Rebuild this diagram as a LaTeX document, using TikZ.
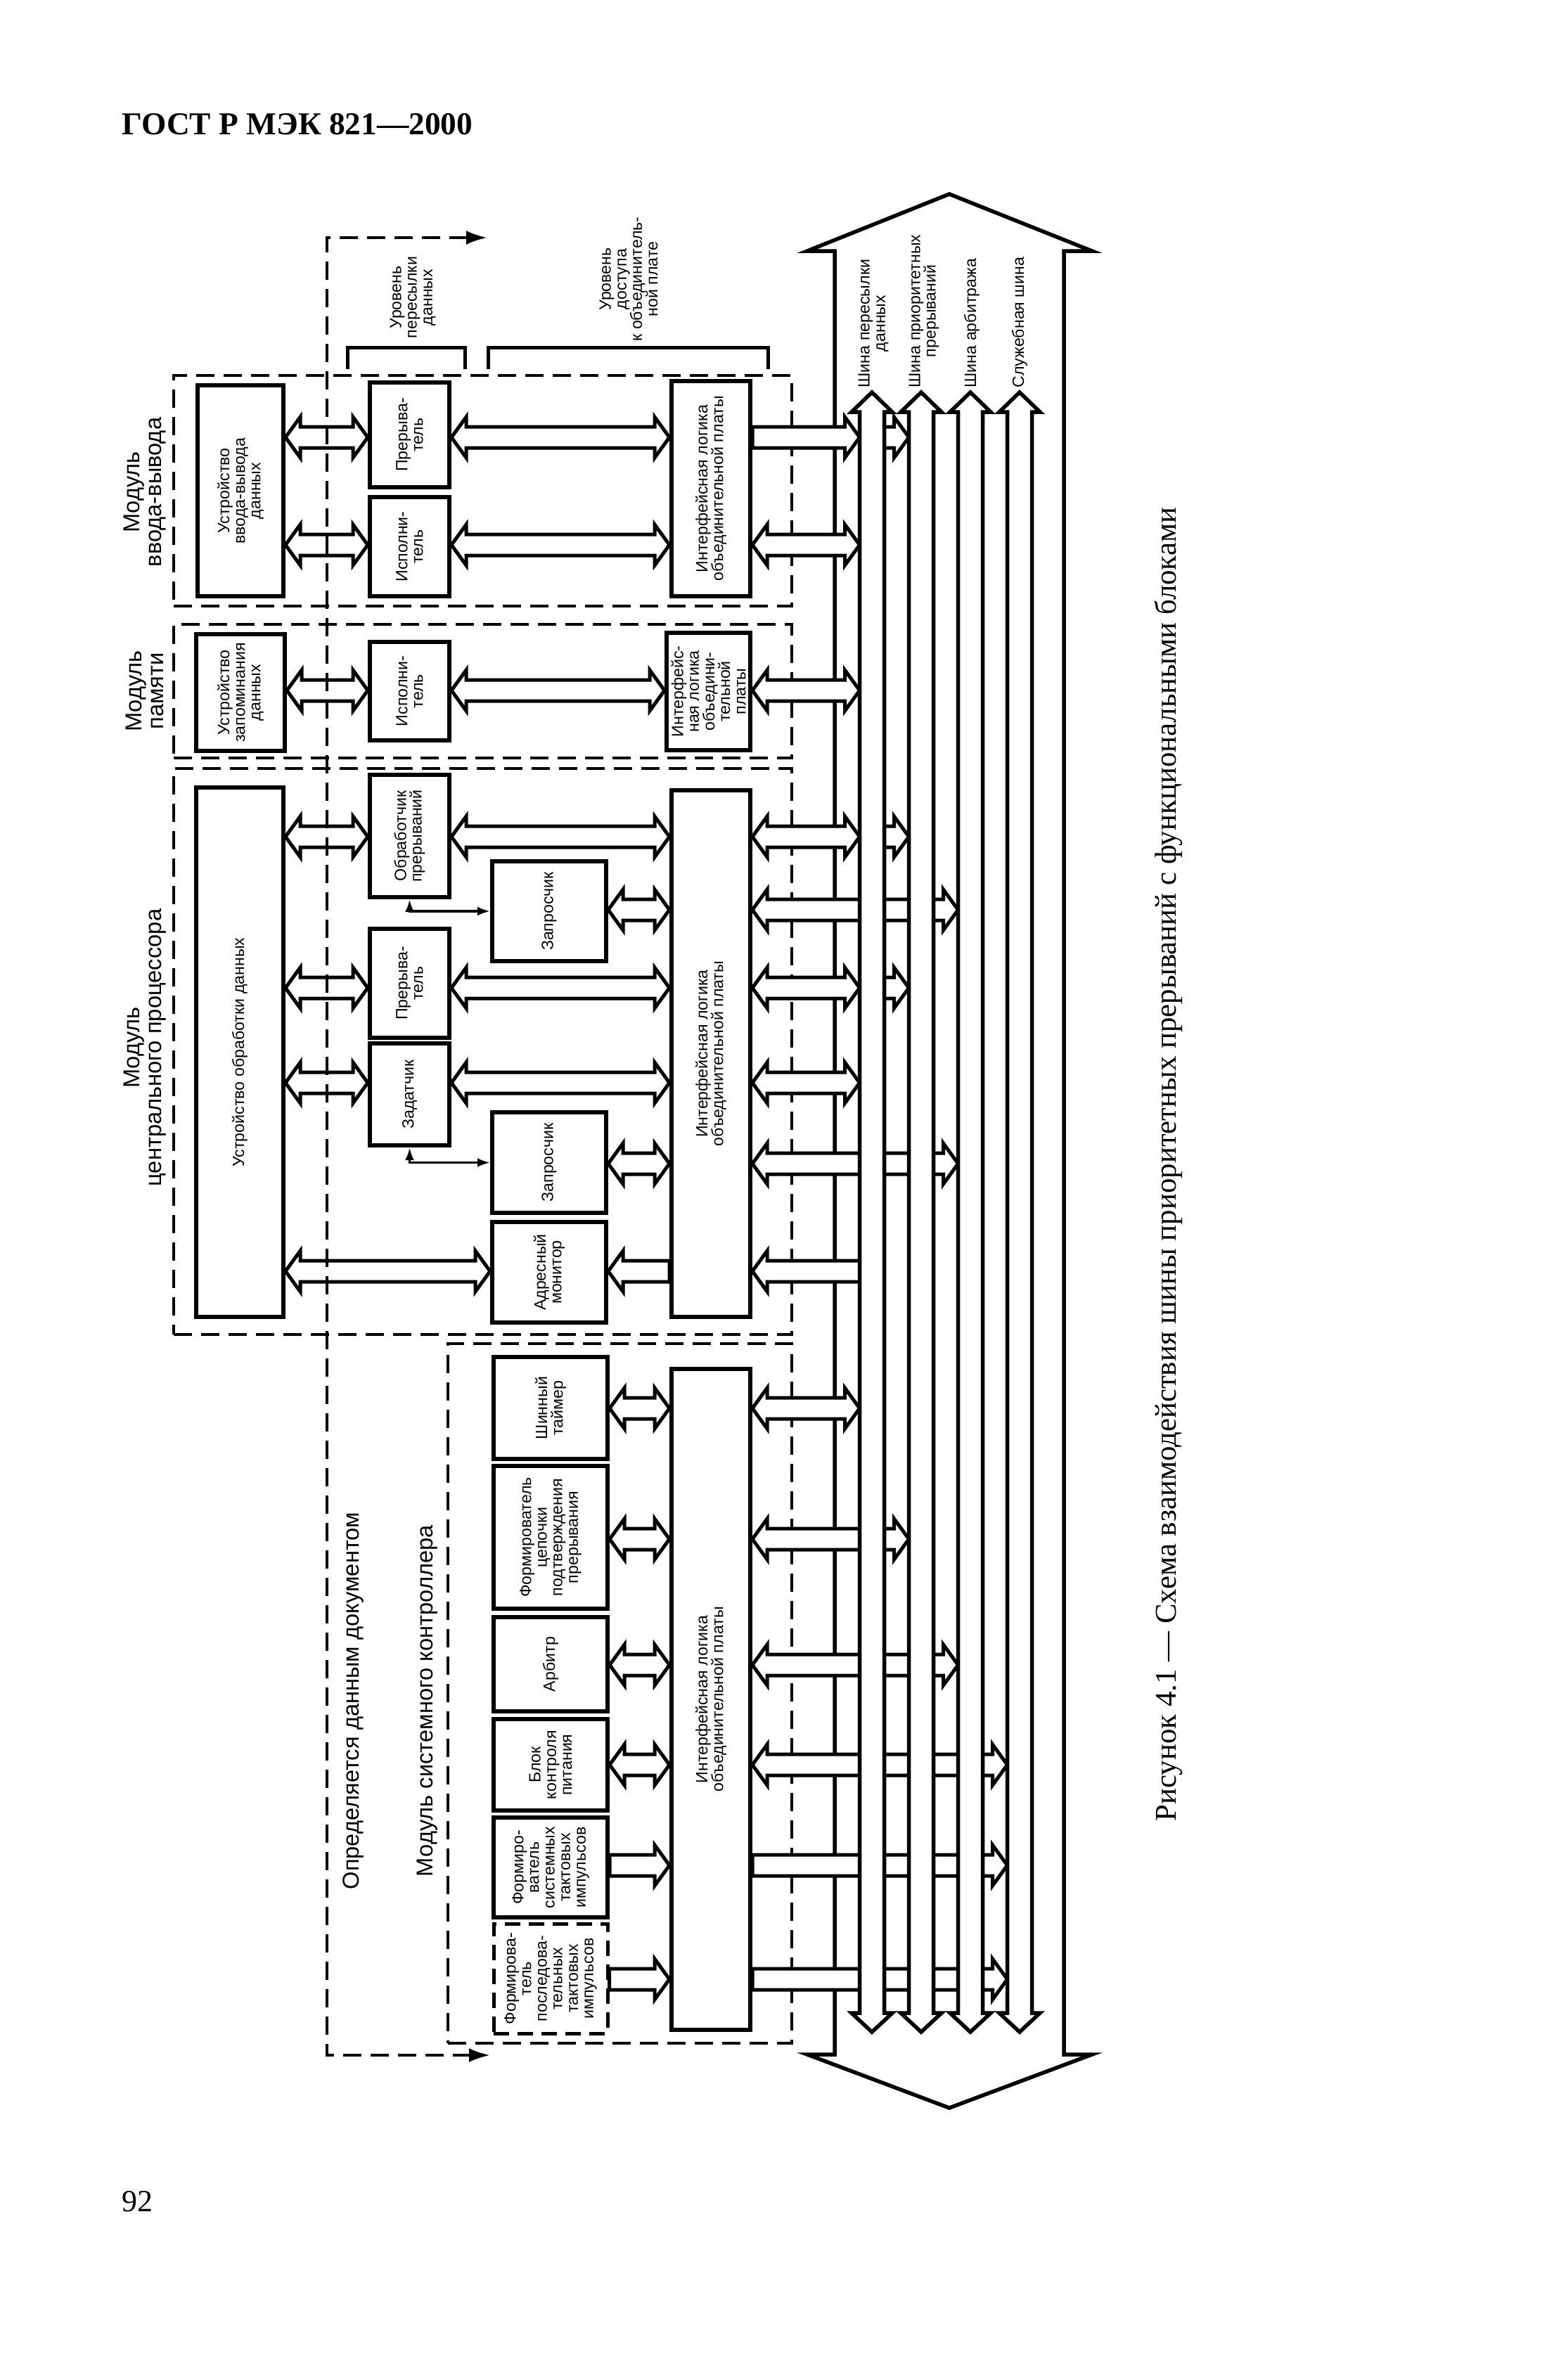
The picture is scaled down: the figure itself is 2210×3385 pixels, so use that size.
\documentclass[tikz,border=0pt]{standalone}
\usepackage{fontspec}
\setmainfont{Liberation Serif}
\setsansfont{Liberation Sans}
\usetikzlibrary{arrows.meta,calc,fit}
\def\hl{2.1mm}\def\hw{2.9mm}\def\sw{1.5mm}
% hollow arrows between two points on one row
\newcommand{\biarrow}[2]{\draw[fat] let \p1=#1,\p2=#2 in (\x1,\y1) -- ++(\hl,\hw) -- ++(0pt,\sw-\hw) -- (\x2-\hl,\y1+\sw) -- ++(0pt,\hw-\sw) -- (\x2,\y1) -- ++(-\hl,-\hw) -- ++(0pt,\hw-\sw) -- (\x1+\hl,\y1-\sw) -- ++(0pt,\sw-\hw) -- cycle;}
\newcommand{\rarrow}[2]{\draw[fat] let \p1=#1,\p2=#2 in (\x1,\y1+\sw) -- (\x2-\hl,\y1+\sw) -- ++(0pt,\hw-\sw) -- (\x2,\y1) -- ++(-\hl,-\hw) -- ++(0pt,\hw-\sw) -- (\x1,\y1-\sw) -- cycle;}
\newcommand{\larrow}[2]{\draw[fat] let \p1=#1,\p2=#2 in (\x1,\y1) -- ++(\hl,\hw) -- ++(0pt,\sw-\hw) -- (\x2,\y1+\sw) -- (\x2,\y1-\sw) -- (\x1+\hl,\y1-\sw) -- ++(0pt,\sw-\hw) -- cycle;}
\newcommand{\busline}[1]{\draw[bus] (#1-17.5,586) -- (#1-29,586) -- (#1,558) -- (#1+29,586) -- (#1+17.5,586) -- (#1+17.5,2863) -- (#1+29,2863) -- (#1,2890) -- (#1-29,2863) -- (#1-17.5,2863) -- cycle;}
\tikzset{box/.style={draw,line width=0.6mm,fill=white,inner sep=0pt},
 dbox/.style={box,line width=0.5mm,dash pattern=on 2.2mm off 1.2mm},
 module/.style={draw,line width=0.45mm,dash pattern=on 2.6mm off 1.3mm,inner sep=0pt},
 txt/.style={rotate=90,align=center,font=\sffamily\fontsize{6.6}{6.3}\selectfont,inner sep=0pt},
 mtxt/.style={rotate=90,align=center,font=\sffamily\fontsize{9.3}{9}\selectfont,inner sep=0pt},
 fat/.style={draw,line width=0.5mm,fill=white,line join=miter},
 bus/.style={draw,line width=0.55mm,fill=white,line join=miter},
 thin/.style={line width=0.35mm,{Latex[length=1.8mm,width=1.3mm]}-{Latex[length=1.8mm,width=1.3mm]}},
 doc/.style={line width=0.4mm,dash pattern=on 2.6mm off 1.3mm,{Latex[length=3mm,width=2mm]}-{Latex[length=3mm,width=2mm]}},
 brk/.style={line width=0.5mm}}
\begin{document}
\begin{tikzpicture}[x=0.1mm,y=-0.1mm]
\useasboundingbox (0,0) rectangle (2210,3385);
\node[anchor=base west,font=\bfseries\fontsize{12.9}{15}\selectfont,inner sep=0pt] (head) at (173,191) {ГОСТ Р МЭК 821—2000};
\node[anchor=base west,font=\fontsize{12.5}{14}\selectfont,inner sep=0pt] (page) at (173,3145) {92};
\node[rotate=90,font=\fontsize{12.2}{14}\selectfont,inner sep=0pt] (cap) at (1662,1656) {Рисунок 4.1 — Схема взаимодействия шины приоритетных прерываний с функциональными блоками};
% modules
\node[module,fit={(247,534) (1126,862)}] (modIO) {};
\node[module,fit={(247,888) (1126,1078)}] (modMem) {};
\node[module,fit={(247,1093) (1126,1898)}] (modCPU) {};
\node[module,fit={(637,1911) (1126,2906)}] (modSys) {};
\node[mtxt] at (206,700) {Модуль\\ввода-вывода};
\node[mtxt] at (206,983) {Модуль\\памяти};
\node[mtxt] at (206,1490) {Модуль\\центрального процессора};
\node[mtxt] at (608,2419) {Модуль системного контроллера};
\node[mtxt] (docl) at (502,2419) {Определяется данным документом};
% big bus arrow
\draw[bus] (1187,357) -- (1148,357) -- (1350,276) -- (1553,357) -- (1513,357) -- (1513,2922) -- (1553,2922) -- (1350,2998) -- (1148,2922) -- (1187,2922) -- cycle;
% levels
\draw[brk] (494,525) |- (661,494) -- (661,525);
\draw[brk] (694,525) |- (1092,494) -- (1092,525);
\node[txt] at (587,423) {Уровень\\пересылки\\данных};
\node[txt] at (894,397) {Уровень\\доступа\\к объединитель-\\ной плате};
% I/O module
\node[box,fit={(281,548) (403,848)}] (udevIO) {};
\node[box,fit={(526,544) (639,693)}] (prerIO) {};
\node[box,fit={(526,707) (639,848)}] (ispIO) {};
\node[box,fit={(955,542) (1067,848)}] (ifIO) {};
\node[txt] at (udevIO) {Устройство\\ввода-вывода\\данных};
\node[txt] at (prerIO) {Прерыва-\\тель};
\node[txt] at (ispIO) {Исполни-\\тель};
\node[txt] at (ifIO) {Интерфейсная логика\\объединительной платы};
% memory module
\node[box,fit={(279,902) (405,1068)}] (udevMem) {};
\node[box,fit={(526,913) (639,1053)}] (ispMem) {};
\node[box,fit={(948,900) (1067,1067)}] (ifMem) {};
\node[txt] at (udevMem) {Устройство\\запоминания\\данных};
\node[txt] at (ispMem) {Исполни-\\тель};
\node[txt] at (ifMem) {Интерфейс-\\ная логика\\объедини-\\тельной\\платы};
% CPU module
\node[box,fit={(279,1120) (403,1873)}] (udevCPU) {};
\node[box,fit={(526,1102) (639,1276)}] (obr) {};
\node[box,fit={(700,1225) (862,1367)}] (zap1) {};
\node[box,fit={(526,1321) (639,1476)}] (prerCPU) {};
\node[box,fit={(526,1484) (639,1629)}] (zad) {};
\node[box,fit={(700,1582) (862,1725)}] (zap2) {};
\node[box,fit={(700,1738) (862,1881)}] (amon) {};
\node[box,fit={(955,1124) (1067,1873)}] (ifCPU) {};
\node[txt] at (udevCPU) {Устройство обработки данных};
\node[txt] at (obr) {Обработчик\\прерываний};
\node[txt] at (zap1) {Запросчик};
\node[txt] at (prerCPU) {Прерыва-\\тель};
\node[txt] at (zad) {Задатчик};
\node[txt] at (zap2) {Запросчик};
\node[txt] at (amon) {Адресный\\монитор};
\node[txt] at (ifCPU) {Интерфейсная логика\\объединительной платы};
% system controller module
\node[box,fit={(702,1930) (864,2075)}] (tmr) {};
\node[box,fit={(702,2085) (864,2288)}] (fcep) {};
\node[box,fit={(702,2300) (864,2434)}] (arb) {};
\node[box,fit={(702,2445) (864,2575)}] (bkp) {};
\node[box,fit={(702,2585) (864,2727)}] (fsti) {};
\node[dbox,fit={(702,2736) (864,2892)}] (fpti) {};
\node[box,fit={(955,1947) (1067,2887)}] (ifSys) {};
\node[txt] at (tmr) {Шинный\\таймер};
\node[txt] at (fcep) {Формирователь\\цепочки\\подтверждения\\прерывания};
\node[txt] at (arb) {Арбитр};
\node[txt] at (bkp) {Блок\\контроля\\питания};
\node[txt] at (fsti) {Формиро-\\ватель\\системных\\тактовых\\импульсов};
\node[txt] at (fpti) {Формирова-\\тель\\последова-\\тельных\\тактовых\\импульсов};
\node[txt] at (ifSys) {Интерфейсная логика\\объединительной платы};
% bus positions
\coordinate (dataC) at (1240,0);
\coordinate (dataL) at (1222.5,0);
\coordinate (prioL) at (1292.5,0);
\coordinate (arbL) at (1362.5,0);
\coordinate (servL) at (1432.5,0);
% I/O rows
\biarrow{(udevIO.east |- 0,622)}{(prerIO.west |- 0,622)}
\biarrow{(prerIO.east |- 0,622)}{(ifIO.west |- 0,622)}
\rarrow{(ifIO.east |- 0,622)}{(dataL |- 0,622)}
\rarrow{(dataC |- 0,622)}{(prioL |- 0,622)}
\biarrow{(udevIO.east |- 0,775)}{(ispIO.west |- 0,775)}
\biarrow{(ispIO.east |- 0,775)}{(ifIO.west |- 0,775)}
\biarrow{(ifIO.east |- 0,775)}{(dataL |- 0,775)}
% memory row
\biarrow{(udevMem.east |- 0,982)}{(ispMem.west |- 0,982)}
\biarrow{(ispMem.east |- 0,982)}{(ifMem.west |- 0,982)}
\biarrow{(ifMem.east |- 0,982)}{(dataL |- 0,982)}
% CPU rows
\biarrow{(udevCPU.east |- 0,1190)}{(obr.west |- 0,1190)}
\biarrow{(obr.east |- 0,1190)}{(ifCPU.west |- 0,1190)}
\biarrow{(ifCPU.east |- 0,1190)}{(dataL |- 0,1190)}
\rarrow{(dataC |- 0,1190)}{(prioL |- 0,1190)}
\biarrow{(zap1.east |- 0,1294)}{(ifCPU.west |- 0,1294)}
\biarrow{(ifCPU.east |- 0,1294)}{(arbL |- 0,1294)}
\biarrow{(udevCPU.east |- 0,1405)}{(prerCPU.west |- 0,1405)}
\biarrow{(prerCPU.east |- 0,1405)}{(ifCPU.west |- 0,1405)}
\biarrow{(ifCPU.east |- 0,1405)}{(dataL |- 0,1405)}
\rarrow{(dataC |- 0,1405)}{(prioL |- 0,1405)}
\biarrow{(udevCPU.east |- 0,1540)}{(zad.west |- 0,1540)}
\biarrow{(zad.east |- 0,1540)}{(ifCPU.west |- 0,1540)}
\biarrow{(ifCPU.east |- 0,1540)}{(dataL |- 0,1540)}
\biarrow{(zap2.east |- 0,1655)}{(ifCPU.west |- 0,1655)}
\biarrow{(ifCPU.east |- 0,1655)}{(arbL |- 0,1655)}
\biarrow{(udevCPU.east |- 0,1808)}{(amon.west |- 0,1808)}
\larrow{(amon.east |- 0,1808)}{(ifCPU.west |- 0,1808)}
\larrow{(ifCPU.east |- 0,1808)}{(dataL |- 0,1808)}
% system controller rows
\biarrow{(tmr.east |- 0,2003)}{(ifSys.west |- 0,2003)}
\biarrow{(ifSys.east |- 0,2003)}{(dataL |- 0,2003)}
\biarrow{(fcep.east |- 0,2189)}{(ifSys.west |- 0,2189)}
\biarrow{(ifSys.east |- 0,2189)}{(prioL |- 0,2189)}
\biarrow{(arb.east |- 0,2368)}{(ifSys.west |- 0,2368)}
\biarrow{(ifSys.east |- 0,2368)}{(arbL |- 0,2368)}
\biarrow{(bkp.east |- 0,2510)}{(ifSys.west |- 0,2510)}
\biarrow{(ifSys.east |- 0,2510)}{(servL |- 0,2510)}
\rarrow{(fsti.east |- 0,2653)}{(ifSys.west |- 0,2653)}
\rarrow{(ifSys.east |- 0,2653)}{(servL |- 0,2653)}
\rarrow{(fpti.east |- 0,2815)}{(ifSys.west |- 0,2815)}
\rarrow{(ifSys.east |- 0,2815)}{(servL |- 0,2815)}
% buses
\foreach \bx in {1240,1310,1380,1450}{\busline{\bx}}
\node[txt,anchor=west] (dataT) at (1242,552) {Шина пересылки\\данных};
\node[txt,anchor=west] (prioT) at (1314,552) {Шина приоритетных\\прерываний};
\node[txt,anchor=west] (arbT) at (1382,552) {Шина арбитража};
\node[txt,anchor=west] (servT) at (1450,552) {Служебная шина};
% requests
\draw[thin] (obr.south) |- (zap1.west);
\draw[thin] (zad.south) |- (zap2.west);
% scope of the document
\coordinate (docA) at (693,338);
\coordinate (docB) at (697,2923);
\draw[doc] (docA) -| (465,2923) -- (docB);
\end{tikzpicture}
\end{document}
